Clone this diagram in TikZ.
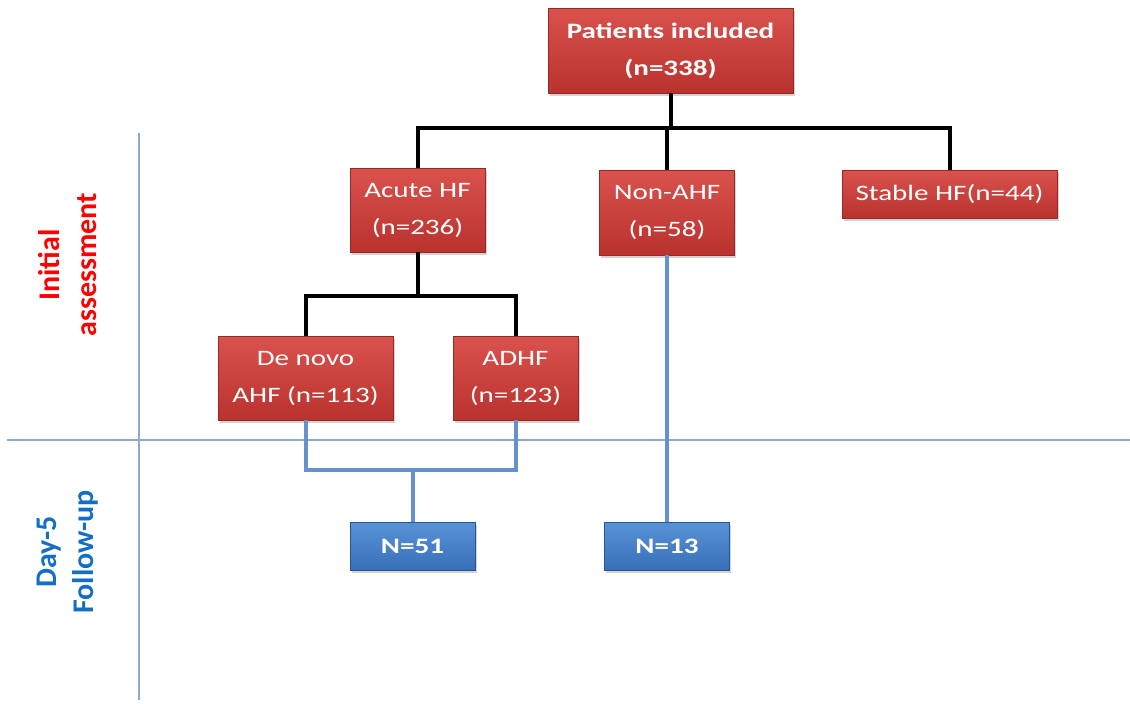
\documentclass[tikz,border=0pt]{standalone}
\usepackage{fontspec}
\usepackage{tikz}
\usetikzlibrary{shadows}
\setmainfont{Carlito}
\newfontfamily\boxfont{Carlito}[FakeStretch=1.32]
\definecolor{redtop}{RGB}{218,82,78}
\definecolor{redbot}{RGB}{186,50,46}
\definecolor{redline}{RGB}{150,40,37}
\definecolor{bluetop}{RGB}{88,146,214}
\definecolor{bluebot}{RGB}{56,112,184}
\definecolor{blueline}{RGB}{40,85,145}
\definecolor{linkblue}{RGB}{102,146,204}
\definecolor{divider}{RGB}{142,169,207}
\definecolor{fublue}{RGB}{20,110,195}

\begin{document}
\begin{tikzpicture}[x=1pt,y=-1pt,
  redbox/.style={draw=redline, line width=0.8, top color=redtop, bottom color=redbot,
    text=white, font=\boxfont\fontsize{22}{37}\selectfont, align=center, inner sep=0pt,
    drop shadow={opacity=0.35, shadow xshift=1.5pt, shadow yshift=-2.5pt}},
  bluebox/.style={redbox, draw=blueline, top color=bluetop, bottom color=bluebot,
    font=\boxfont\bfseries\fontsize{22}{37}\selectfont},
  link/.style={line width=4, black},
  follow/.style={line width=4, linkblue},
  phase/.style={rotate=90, align=center, font=\bfseries\fontsize{30}{37}\selectfont}]
\useasboundingbox (0,0) rectangle (1130,704);

\draw[divider, line width=1.2] (139,133) -- (139,700);
\draw[divider, line width=1.2] (7,440) -- (1130,440);

\node[phase, text=red] (initial) at (68,265) {Initial\\assessment};
\node[phase, text=fublue] (dayfive) at (68,552) {Day-5\\Follow-up};

\node[redbox, minimum width=245, minimum height=85, font=\boxfont\bfseries\fontsize{22}{37}\selectfont] (patients) at (670.5,50.5) {Patients included\\(n=338)};
\node[redbox, minimum width=135, minimum height=84] (acute) at (417.5,210) {Acute HF\\(n=236)};
\node[redbox, minimum width=135, minimum height=85] (nonahf) at (667,212.5) {Non-AHF\\(n=58)};
\node[redbox, minimum width=215, minimum height=48] (stable) at (949.5,194) {Stable HF(n=44)};
\node[redbox, minimum width=175, minimum height=84] (denovo) at (305.5,378) {De novo\\AHF (n=113)};
\node[redbox, minimum width=125, minimum height=84] (adhf) at (515.5,378) {ADHF\\(n=123)};
\node[bluebox, minimum width=125, minimum height=48] (nfiftyone) at (412.5,546) {N=51};
\node[bluebox, minimum width=125, minimum height=48] (nthirteen) at (667,546) {N=13};

\coordinate (bus) at (670.5,128);
\coordinate (split) at (417.5,296);
\coordinate (merge) at (412.5,470);

\draw[link] (patients.south) -- (bus);
\draw[link] (acute.north) |- (bus) -| (stable.north);
\draw[link] (nonahf.north) -- (nonahf.north |- bus);
\draw[link] (acute.south) -- (split);
\draw[link] (denovo.north) |- (split) -| (adhf.north);
\draw[follow] (denovo.south) |- (merge) -| (adhf.south);
\draw[follow] (merge) -- (nfiftyone.north);
\draw[follow] (nonahf.south) -- (nthirteen.north);
\end{tikzpicture}
\end{document}
